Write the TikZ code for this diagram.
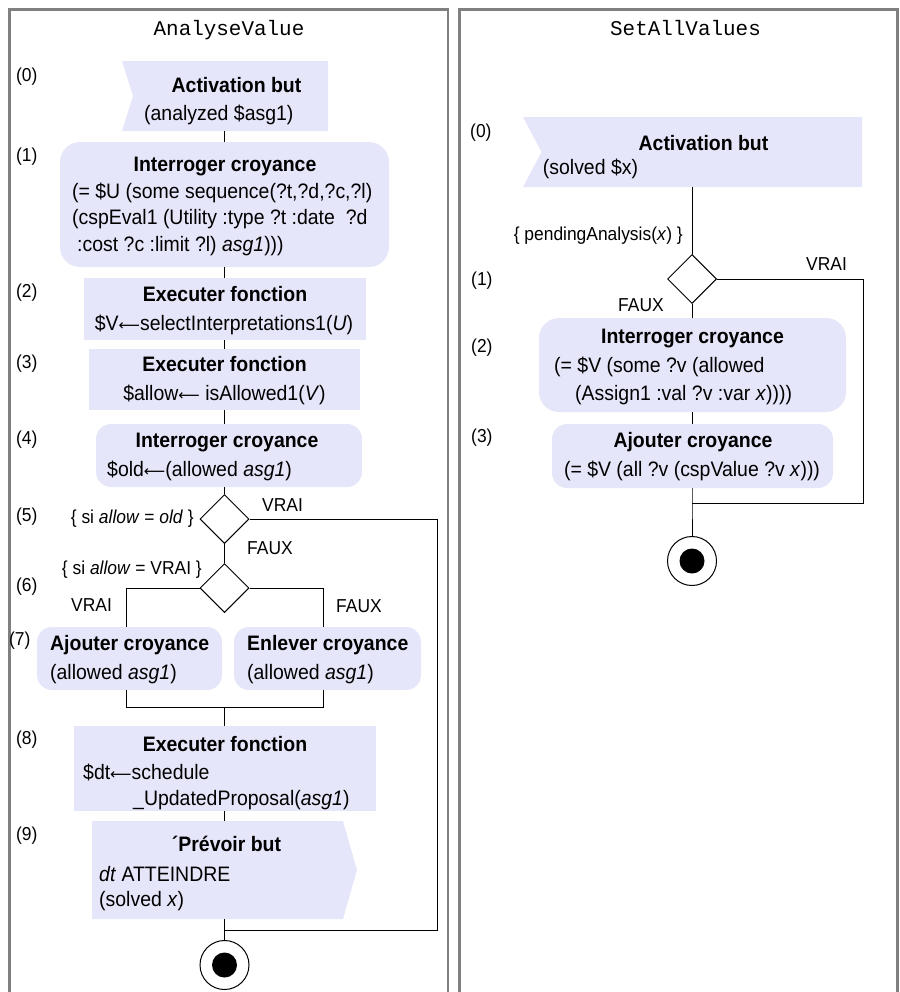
\documentclass[tikz,border=0pt]{standalone}
\usepackage{fontspec}
\setmainfont[FakeStretch=0.93]{Liberation Sans}
\newfontfamily\monofont{Liberation Mono}
\newfontfamily\arrfont{DejaVu Sans}
\newcommand{\larr}{{\arrfont\fontsize{15}{18}\selectfont ⟵}}
\usetikzlibrary{shapes.geometric,fit,calc}
\definecolor{boxfill}{RGB}{230,230,250}
\definecolor{framegray}{RGB}{128,128,128}
\begin{document}
\begin{tikzpicture}[x=1bp,y=-1bp,
  hold/.style={inner sep=0pt, outer sep=0pt},
  rbox/.style={fill=boxfill, rounded corners=#1, inner sep=0pt, outer sep=0pt},
  sbox/.style={fill=boxfill, inner sep=0pt, outer sep=0pt},
  conn/.style={draw=black, line width=1bp},
  frame/.style={draw=framegray, line width=2.2bp},
  dia/.style={diamond, draw=black, line width=1bp, fill=white, minimum width=49bp, minimum height=49bp, inner sep=0pt, aspect=1},
  fin/.style={circle, draw=black, line width=1bp, fill=white, minimum size=49bp, inner sep=0pt},
  dot/.style={circle, fill=black, minimum size=25bp, inner sep=0pt},
  txt/.style={inner sep=0pt, font=\fontsize{21}{24}\selectfont},
  ttl/.style={inner sep=0pt, font=\fontsize{21}{24}\selectfont\bfseries},
  lbl/.style={inner sep=0pt, anchor=base west, font=\fontsize{18.8}{21}\selectfont},
  grd/.style={inner sep=0pt, font=\fontsize{18.8}{21}\selectfont},
  mono/.style={inner sep=0pt, anchor=base, font=\fontsize{21}{24}\monofont}]
\useasboundingbox (0,0) rectangle (900,992);

% panel frames
\draw[frame] (9.5,1000) -- (9.5,9.5) -- (448,9.5) -- (448,1000);
\draw[frame] (459.5,1000) -- (459.5,9.5) -- (897.5,9.5) -- (897.5,1000);

% ---------------- left panel shapes ----------------
\node[hold, fit={(122,61) (328,131)}] (b0) {};
\fill[boxfill] (b0.north west) -- (b0.north east) -- (b0.south east) -- (b0.south west) -- ([xshift=11bp]b0.west) -- cycle;
\node[rbox=20bp, fit={(60,142) (389,267)}] (b1) {};
\node[sbox, fit={(84,278) (366,340)}] (b2) {};
\node[sbox, fit={(89,349) (360,410)}] (b3) {};
\node[rbox=15bp, fit={(96,424) (362,487)}] (b4) {};
\node[dia] (d1) at (224.5,519) {};
\node[dia] (d2) at (224.5,588) {};
\node[rbox=15bp, fit={(37,627) (222,690)}] (b7a) {};
\node[rbox=15bp, fit={(234,627) (421,690)}] (b7b) {};
\node[sbox, fit={(74,726) (376,811)}] (b8) {};
\node[hold, fit={(92,821) (343,919)}] (b9) {};
\fill[boxfill] (b9.north west) -- (b9.north east) -- ([xshift=14bp]b9.east) -- (b9.south east) -- (b9.south west) -- cycle;
\node[fin] (f1) at (224.5,965) {};
\node[dot] (f1d) at (f1) {};

% ---------------- left panel connectors ----------------
\coordinate (axL) at (224.5,0);
\coordinate (bl) at (126,588);
\coordinate (br) at (323,588);
\coordinate (jl) at (126,707);
\coordinate (jr) at (323,707);
\coordinate (mL) at (224.5,930);
\coordinate (vL) at (437,930);
\draw[conn] (b0.south -| axL) -- (b1.north -| axL);
\draw[conn] (b1.south -| axL) -- (b2.north -| axL);
\draw[conn] (b2.south -| axL) -- (b3.north -| axL);
\draw[conn] (b3.south -| axL) -- (b4.north -| axL);
\draw[conn] (b4.south -| axL) -- (d1.north);
\draw[conn] (d1.south) -- (d2.north);
\draw[conn] (d2.west) -- (bl) -- (bl |- b7a.north);
\draw[conn] (d2.east) -- (br) -- (br |- b7b.north);
\draw[conn] (jl |- b7a.south) -- (jl) -- (jr) -- (jr |- b7b.south);
\draw[conn] (jl -| axL) -- (b8.north -| axL);
\draw[conn] (b8.south -| axL) -- (b9.north -| axL);
\draw[conn] (b9.south -| axL) -- (mL) -- (f1.north);
\draw[conn] (d1.east) -- (d1.east -| vL) -- (vL) -- (mL);

% ---------------- left panel texts ----------------
\node[mono] (tL) at (229,35) {AnalyseValue};
\node[lbl] (l0) at (16,81) {(0)};
\node[ttl, anchor=base] (t0a) at (236.5,92) {Activation but};
\node[txt, anchor=base west] (t0b) at (144,120) {(analyzed \$asg1)};
\node[lbl] (l1) at (16,161) {(1)};
\node[ttl, anchor=base] (t1a) at (225,171.5) {Interroger croyance};
\node[txt, anchor=base west] (t1b) at (72,198) {(= \$U (some sequence(?t,?d,?c,?l)};
\node[txt, anchor=base west] (t1c) at (72,224.5) {(cspEval1 (Utility :type ?t :date\ \ ?d};
\node[txt, anchor=base west] (t1d) at (77,251) {:cost ?c :limit ?l) \textit{asg1})))};
\node[lbl] (l2) at (16,297) {(2)};
\node[ttl, anchor=base] (t2a) at (225,301.5) {Executer fonction};
\node[txt, anchor=base] (t2b) at (224,330) {\$V\larr selectInterpretations1(\textit{U})};
\node[lbl] (l3) at (16,368) {(3)};
\node[ttl, anchor=base] (t3a) at (224.5,371.5) {Executer fonction};
\node[txt, anchor=base] (t3b) at (224.5,400) {\$allow\larr\ isAllowed1(\textit{V})};
\node[lbl] (l4) at (16,444) {(4)};
\node[ttl, anchor=base] (t4a) at (227,447.5) {Interroger croyance};
\node[txt, anchor=base west] (t4b) at (107,476) {\$old\larr(allowed \textit{asg1})};
\node[lbl] (l5) at (16,521) {(5)};
\node[grd, anchor=base east] (g1) at (194,523) {\{ si \textit{allow} = \textit{old} \}};
\node[grd, anchor=base west] (g1v) at (262,511) {VRAI};
\node[grd, anchor=base west] (g1f) at (247,554) {FAUX};
\node[lbl] (l6) at (16,591) {(6)};
\node[grd, anchor=base east] (g2) at (202,574.5) {\{ si \textit{allow} = VRAI \}};
\node[grd, anchor=base west] (g2v) at (71,611.5) {VRAI};
\node[grd, anchor=base west] (g2f) at (336,612) {FAUX};
\node[lbl] (l7) at (9,645) {(7)};
\node[ttl, anchor=base west] (t7a) at (50,650.5) {Ajouter croyance};
\node[txt, anchor=base west] (t7b) at (50,679) {(allowed \textit{asg1})};
\node[ttl, anchor=base west] (t7c) at (247,650.5) {Enlever croyance};
\node[txt, anchor=base west] (t7d) at (247,679) {(allowed \textit{asg1})};
\node[lbl] (l8) at (16,744) {(8)};
\node[ttl, anchor=base] (t8a) at (225,751) {Executer fonction};
\node[txt, anchor=base west] (t8b) at (83,779) {\$dt\larr schedule};
\node[txt, anchor=base west] (t8c) at (133,805) {\_UpdatedProposal(\textit{asg1})};
\node[lbl] (l9) at (16,840) {(9)};
\node[ttl, anchor=base] (t9a) at (226.5,851) {´Prévoir but};
\node[txt, anchor=base west] (t9b) at (99,881) {\textit{dt} ATTEINDRE};
\node[txt, anchor=base west] (t9c) at (99,906) {(solved \textit{x})};

% ---------------- right panel shapes ----------------
\node[hold, fit={(523,117) (862,187)}] (r0) {};
\fill[boxfill] (r0.north west) -- (r0.north east) -- (r0.south east) -- (r0.south west) -- ([xshift=18.5bp]r0.west) -- cycle;
\node[dia] (dR) at (692,279) {};
\node[rbox=20bp, fit={(539,318) (846,412)}] (r2) {};
\node[rbox=15bp, fit={(552,424) (833,488)}] (r3) {};
\node[fin] (f2) at (692,561) {};
\node[dot] (f2d) at (f2) {};

% ---------------- right panel connectors ----------------
\coordinate (axR) at (692,0);
\coordinate (vR) at (863,503);
\coordinate (mR) at (692,503);
\draw[conn] (r0.south -| axR) -- (dR.north);
\draw[conn] (dR.south) -- (r2.north -| axR);
\draw[conn] (r2.south -| axR) -- (r3.north -| axR);
\draw[conn] (r3.south -| axR) -- (mR) -- (f2.north);
\draw[conn] (dR.east) -- (dR.east -| vR) -- (vR) -- (mR);

% ---------------- right panel texts ----------------
\node[mono] (tR) at (685.5,35) {SetAllValues};
\node[lbl] (m0) at (470,137.5) {(0)};
\node[ttl, anchor=base] (s0a) at (703.5,150) {Activation but};
\node[txt, anchor=base west] (s0b) at (542.7,174) {(solved \$x)};
\node[grd, anchor=base east] (gR) at (683,240) {\{ pendingAnalysis(\textit{x}) \}};
\node[grd, anchor=base west] (gRv) at (806,270) {VRAI};
\node[lbl] (m1) at (471,285.5) {(1)};
\node[grd, anchor=base west] (gRf) at (618,311.5) {FAUX};
\node[lbl] (m2) at (471,352) {(2)};
\node[ttl, anchor=base] (s2a) at (692.5,343.5) {Interroger croyance};
\node[txt, anchor=base west] (s2b) at (554,372) {(= \$V (some ?v (allowed};
\node[txt, anchor=base west] (s2c) at (575,400) {(Assign1 :val ?v :var \textit{x}))))};
\node[lbl] (m3) at (471,442) {(3)};
\node[ttl, anchor=base] (s3a) at (693,447.5) {Ajouter croyance};
\node[txt, anchor=base] (s3b) at (692,476) {(= \$V (all ?v (cspValue ?v \textit{x})))};
\end{tikzpicture}
\end{document}
